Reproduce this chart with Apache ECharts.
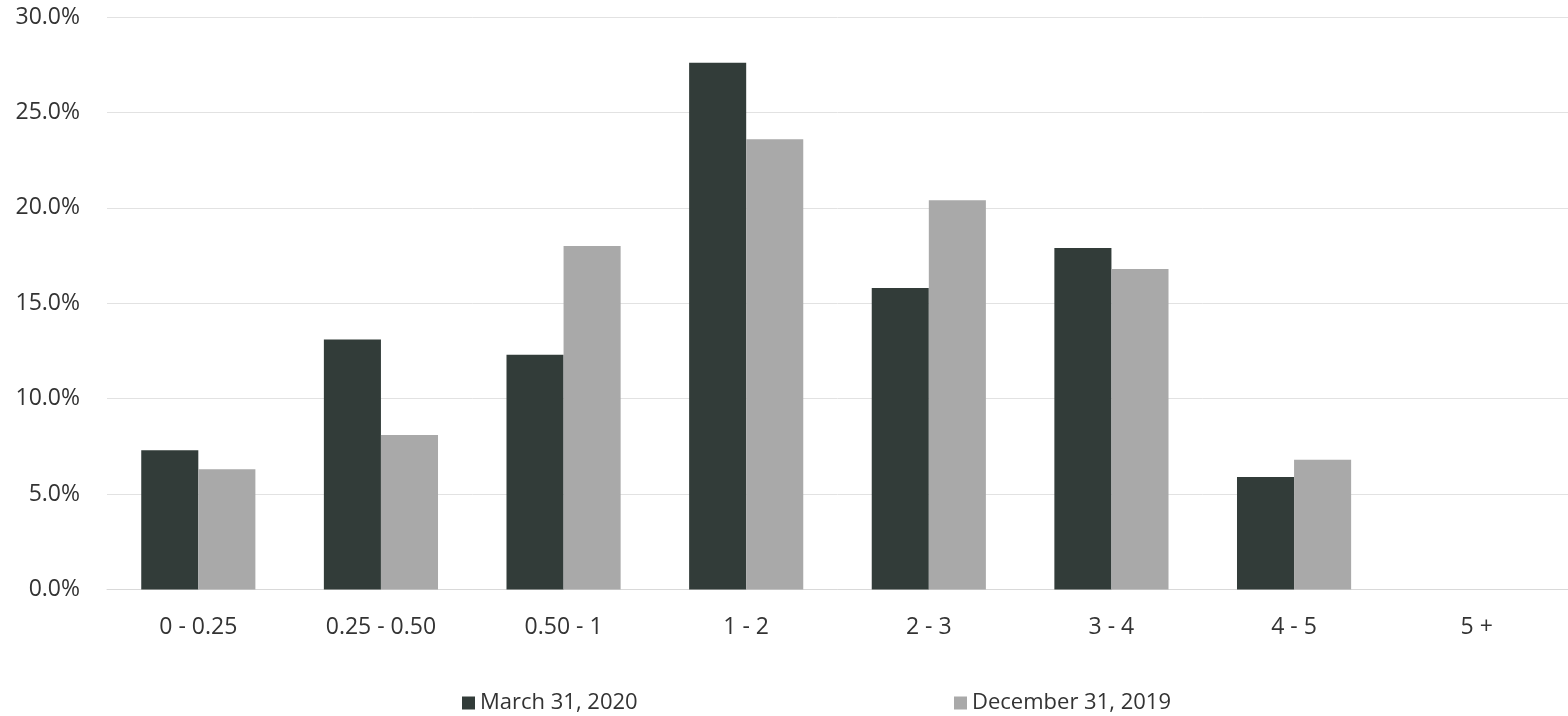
<!DOCTYPE html>
<html>
<head>
<meta charset="utf-8">
<script src="https://cdn.jsdelivr.net/npm/echarts@6/dist/echarts.min.js"></script>
<style>
  html, body { margin: 0; padding: 0; background: #fff; }
  #chart { width: 1568px; height: 716px; }
</style>
</head>
<body>
<div id="chart"></div>
<script>
// Maturity buckets (years) and share of portfolio in each bucket (%)
const categories = ['0 - 0.25', '0.25 - 0.50', '0.50 - 1', '1 - 2', '2 - 3', '3 - 4', '4 - 5', '5 +'];
const march2020 = [7.3, 13.1, 12.3, 27.6, 15.8, 17.9, 5.9, 0];
const december2019 = [6.3, 8.1, 18.0, 23.6, 20.4, 16.8, 6.8, 0];
const seriesNames = ['March 31, 2020', 'December 31, 2019'];
const yTicks = { min: 0, max: 30, interval: 5 };

const darkColor = '#323c39';
const lightColor = '#a9a9a9';
const textColor = '#333333';
const fontFamily = '"Open Sans", "Noto Sans", sans-serif';

const chart = echarts.init(document.getElementById('chart'));

const legendStyle = {
  top: 687,
  itemWidth: 13,
  itemHeight: 13,
  itemGap: 8,
  icon: 'rect',
  textStyle: { color: textColor, fontSize: 22, fontFamily: fontFamily }
};

chart.setOption({
  animation: false,
  backgroundColor: '#ffffff',
  grid: { left: 107, width: 1464, top: 17, bottom: 126.5, containLabel: false },
  legend: [
    Object.assign({ left: 457, data: [seriesNames[0]] }, legendStyle),
    Object.assign({ left: 949, data: [seriesNames[1]] }, legendStyle)
  ],
  xAxis: {
    type: 'category',
    data: categories,
    axisLine: { show: true, lineStyle: { color: '#d9d9d9', width: 1 } },
    axisTick: { show: false },
    axisLabel: { color: textColor, fontSize: 23, fontFamily: fontFamily, margin: 26 }
  },
  yAxis: {
    type: 'value',
    min: yTicks.min,
    max: yTicks.max,
    interval: yTicks.interval,
    axisLine: { show: false },
    axisTick: { show: false },
    splitLine: { lineStyle: { color: '#e2e2e2', width: 1 } },
    axisLabel: {
      color: textColor,
      fontSize: 23,
      fontFamily: fontFamily,
      margin: 27,
      formatter: v => v.toFixed(1) + '%'
    }
  },
  series: [
    {
      name: seriesNames[0],
      type: 'bar',
      data: march2020,
      barGap: '0%',
      barCategoryGap: '37.5%',
      itemStyle: { color: darkColor }
    },
    {
      name: seriesNames[1],
      type: 'bar',
      data: december2019,
      barGap: '0%',
      barCategoryGap: '37.5%',
      itemStyle: { color: lightColor }
    }
  ]
});
</script>
</body>
</html>
